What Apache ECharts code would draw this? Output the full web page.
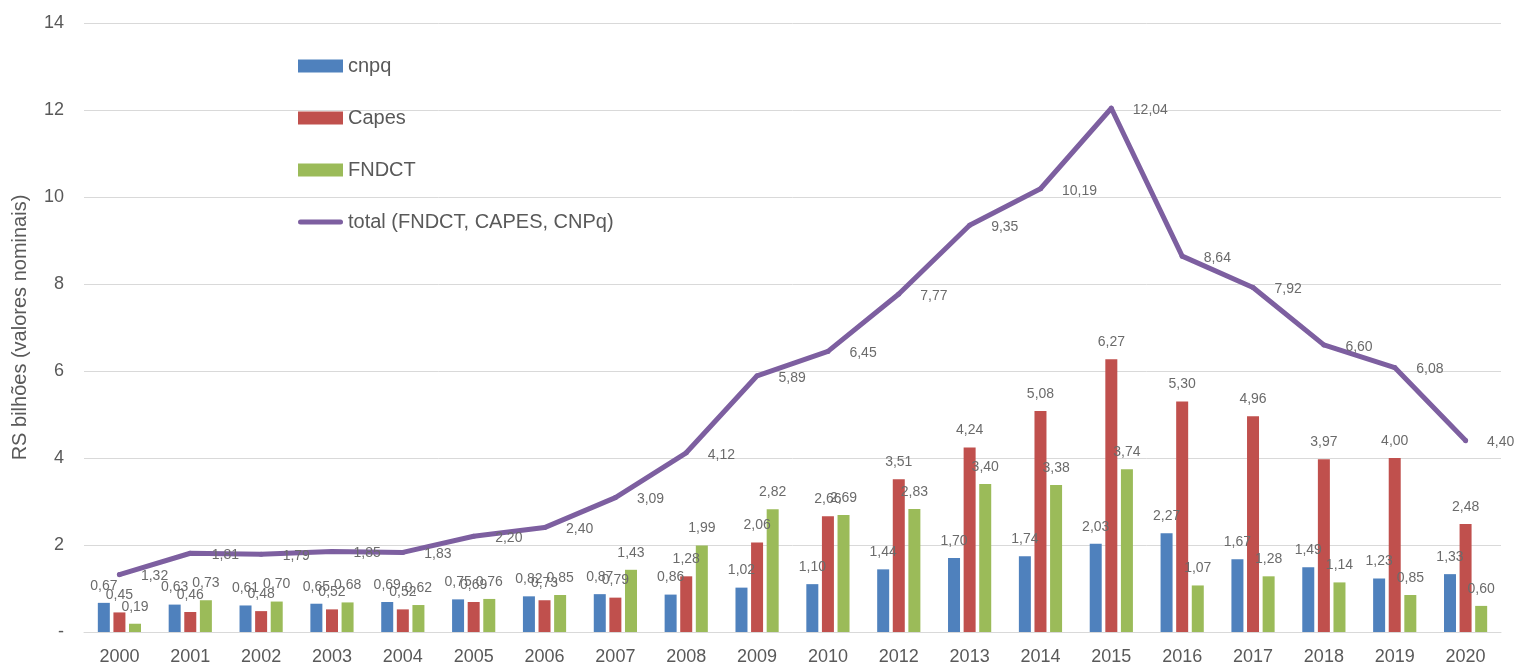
<!DOCTYPE html>
<html>
<head>
<meta charset="utf-8">
<script src="https://cdn.jsdelivr.net/npm/echarts@6/dist/echarts.min.js"></script>
<style>
html,body{margin:0;padding:0;background:#fff;}
#chart{width:1516px;height:667px;}
</style>
</head>
<body>
<div id="chart"></div>
<script>
const years = ['2000','2001','2002','2003','2004','2005','2006','2007','2008','2009','2010','2012','2013','2014','2015','2016','2017','2018','2019','2020'];
const cnpq  = [0.67,0.63,0.61,0.65,0.69,0.75,0.82,0.87,0.86,1.02,1.10,1.44,1.70,1.74,2.03,2.27,1.67,1.49,1.23,1.33];
const capes = [0.45,0.46,0.48,0.52,0.52,0.69,0.73,0.79,1.28,2.06,2.66,3.51,4.24,5.08,6.27,5.30,4.96,3.97,4.00,2.48];
const fndct = [0.19,0.73,0.70,0.68,0.62,0.76,0.85,1.43,1.99,2.82,2.69,2.83,3.40,3.38,3.74,1.07,1.28,1.14,0.85,0.60];
const total = [1.32,1.81,1.79,1.85,1.83,2.20,2.40,3.09,4.12,5.89,6.45,7.77,9.35,10.19,12.04,8.64,7.92,6.60,6.08,4.40];
const seriesNames = ['cnpq','Capes','FNDCT','total (FNDCT, CAPES, CNPq)'];
const yTicks = {0:'-',2:'2',4:'4',6:'6',8:'8',10:'10',12:'12',14:'14'};

const FONT = '"Liberation Sans", Arial, sans-serif';
const fmt = p => p.value.toFixed(2).replace('.', ',');
const barLabel = {show:true, position:'top', distance:5, offset:[0,-5], formatter:fmt, color:'#6b6b6b', fontSize:14, fontFamily:FONT};
const lineIcon = 'path://M0,0 M45,13 M2.5,4 L42.5,4 A2.5,2.5,0,0,1,42.5,9 L2.5,9 A2.5,2.5,0,0,1,2.5,4 Z';

const chart = echarts.init(document.getElementById('chart'), null, {renderer:'canvas'});
chart.setOption({
  animation:false,
  backgroundColor:'#ffffff',
  grid:{left:84, right:15, top:23, bottom:35, containLabel:false},
  legend:{
    orient:'vertical', left:293, top:51, itemWidth:45, itemHeight:13, itemGap:32,
    textStyle:{fontSize:20, color:'#595959', fontFamily:FONT},
    data:[
      {name:seriesNames[0], icon:'rect'},
      {name:seriesNames[1], icon:'rect'},
      {name:seriesNames[2], icon:'rect'},
      {name:seriesNames[3], icon:lineIcon, itemStyle:{color:'#7D5FA0'}}
    ]
  },
  xAxis:{
    type:'category', data:years,
    axisLine:{lineStyle:{color:'#d9d9d9', width:1}},
    axisTick:{show:false},
    axisLabel:{fontSize:18, color:'#595959', fontFamily:FONT, margin:16, interval:0}
  },
  yAxis:{
    type:'value', min:0, max:14, interval:2,
    name:'RS bilhões (valores nominais)', nameLocation:'middle', nameGap:54, nameRotate:90,
    nameTextStyle:{fontSize:20, color:'#595959', fontFamily:FONT},
    axisLine:{show:false}, axisTick:{show:false},
    splitLine:{lineStyle:{color:'#d9d9d9', width:1}},
    axisLabel:{fontSize:18, color:'#595959', fontFamily:FONT, margin:20, formatter:v => yTicks[v]}
  },
  series:[
    {name:seriesNames[0], type:'bar', data:cnpq, barWidth:12, barGap:'30%', itemStyle:{color:'#4F81BD'}, label:barLabel},
    {name:seriesNames[1], type:'bar', data:capes, barWidth:12, barGap:'30%', itemStyle:{color:'#C0504D'}, label:barLabel},
    {name:seriesNames[2], type:'bar', data:fndct, barWidth:12, barGap:'30%', itemStyle:{color:'#9BBB59'}, label:barLabel},
    {name:seriesNames[3], type:'line', data:total, symbol:'circle', symbolSize:5, showSymbol:true, z:5,
     lineStyle:{color:'#7D5FA0', width:5, cap:'round', join:'round'}, itemStyle:{color:'#7D5FA0'},
     label:{show:true, position:'right', distance:5, offset:[14,2], formatter:fmt, color:'#6b6b6b', fontSize:14, fontFamily:FONT}}
  ]
});
</script>
</body>
</html>
